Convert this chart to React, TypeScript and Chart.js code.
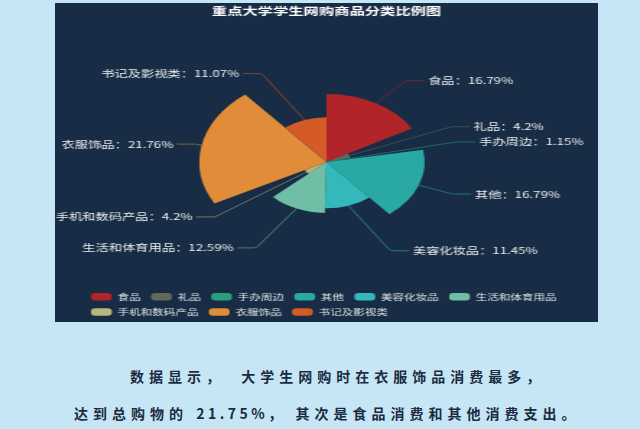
import React, { useEffect, useRef } from 'react';
import { Chart, registerables } from 'chart.js';

Chart.register(...registerables);

const FONT = '"Noto Sans CJK SC", "Microsoft YaHei", sans-serif';

const chartTitle = '重点大学学生网购商品分类比例图';
const categories = ['食品', '礼品', '手办周边', '其他', '美容化妆品', '生活和体育用品', '手机和数码产品', '衣服饰品', '书记及影视类'];
const shares = [16.79, 4.2, 1.15, 16.79, 11.45, 12.59, 4.2, 21.76, 11.07];
const colors = ['#b1242a', '#5f6a5a', '#2a9f7e', '#2aa9a4', '#33b8bc', '#6ebfa6', '#b4b67e', '#e08c38', '#d45a27'];
const captionLine1 = '数据显示，  大学生网购时在衣服饰品消费最多，';
const captionLine2Start = '达到总购物的 ';
const captionLine2Number = '21.75%';
const captionLine2End = '， 其次是食品消费和其他消费支出。';

const total = shares.reduce((a, b) => a + b, 0);
const STRETCH = 543 / 376;

const roseLabels = {
  id: 'roseLabels',
  afterDatasetsDraw(chart: any) {
    const ctx = chart.ctx;
    const meta = chart.getDatasetMeta(0);
    const scale = chart.scales.r;
    const R = scale.getDistanceFromCenterForValue(Math.max(...shares));
    const rL = R + 6;
    const rA = R + 4;
    const rB = rA * 1.1;
    ctx.save();
    ctx.font = `9.2px ${FONT}`;
    ctx.textBaseline = 'middle';
    meta.data.forEach((arc: any, i: number) => {
      const { x, y, startAngle, endAngle, outerRadius } = arc.getProps(['x', 'y', 'startAngle', 'endAngle', 'outerRadius'], true);
      const mid = (startAngle + endAngle) / 2;
      const c = Math.cos(mid);
      const s = Math.sin(mid);
      const x1 = x + outerRadius * c;
      const y1 = y + outerRadius * s;
      const ly = y + rL * s;
      const dy = Math.abs(ly - y);
      const dir = c < 0 ? -1 : 1;
      const ex = rA * Math.sqrt(Math.max(0, 1 - (dy * dy) / (rB * rB)));
      const x2 = x + dir * ex;
      const x3 = x2 + dir * 13;
      ctx.strokeStyle = colors[i] + '8c';
      ctx.lineWidth = 1;
      ctx.beginPath();
      ctx.moveTo(x1, y1);
      ctx.arcTo(x2, ly, x3, ly, 4);
      ctx.lineTo(x3, ly);
      ctx.stroke();
      ctx.fillStyle = '#eceef0';
      ctx.textAlign = dir < 0 ? 'right' : 'left';
      ctx.fillText(`${categories[i]}：${shares[i]}%`, x3 + dir * 2.5, ly);
    });
    ctx.restore();
  },
};

function RoseChart() {
  const ref = useRef<HTMLCanvasElement | null>(null);
  useEffect(() => {
    if (!ref.current) return;
    const chart = new Chart(ref.current, {
      type: 'polarArea',
      data: {
        labels: categories,
        datasets: [
          {
            data: shares,
            backgroundColor: colors,
            borderWidth: 0,
            angle: shares.map((v) => (v / total) * 360),
          } as any,
        ],
      },
      options: {
        responsive: false,
        animation: false,
        layout: { padding: { left: 17.7, right: 17.7, top: 0, bottom: 0 } },
        scales: {
          r: { display: false, min: 0, max: 30.4 },
        },
        plugins: {
          title: {
            display: true,
            text: chartTitle,
            color: '#ffffff',
            font: { size: 10.6, weight: 'bold', family: FONT },
            padding: { top: 1.44, bottom: 22.24 },
          },
          legend: {
            position: 'bottom',
            align: 'start',
            labels: {
              boxWidth: 14.4,
              boxHeight: 7.5,
              padding: 7.2,
              color: '#e2e6ea',
              font: { size: 8, family: FONT },
              generateLabels: (c: any) =>
                categories.map((name, i) => ({
                  text: name,
                  fillStyle: colors[i],
                  strokeStyle: colors[i],
                  lineWidth: 0,
                  borderRadius: 3,
                  fontColor: '#e2e6ea',
                  hidden: !c.getDataVisibility(i),
                  index: i,
                })),
            },
          },
          tooltip: { enabled: false },
        },
      } as any,
      plugins: [roseLabels],
    });
    return () => chart.destroy();
  }, []);
  return <canvas ref={ref} width={376} height={323} style={{ width: 376, height: 323, display: 'block' }} />;
}

export default function App() {
  const captionStyle: React.CSSProperties = {
    position: 'absolute',
    fontFamily: FONT,
    fontWeight: 'bold',
    fontSize: 14,
    letterSpacing: 5,
    lineHeight: '20px',
    color: '#1b2b40',
    whiteSpace: 'pre',
  };
  return (
    <div style={{ position: 'fixed', left: 0, top: 0, width: 640, height: 429, background: '#c6e6f6', overflow: 'hidden' }}>
      <div style={{ position: 'absolute', left: 55, top: 3, width: 543, height: 319, background: '#182d45', overflow: 'hidden' }}>
        <div style={{ width: 376, height: 323, transform: `scaleX(${STRETCH})`, transformOrigin: '0 0' }}>
          <RoseChart />
        </div>
      </div>
      <div style={{ ...captionStyle, left: 130, top: 366 }}>{captionLine1}</div>
      <div style={{ ...captionStyle, left: 74, top: 403 }}>
        {captionLine2Start}
        <span style={{ letterSpacing: 3.5 }}>{captionLine2Number}</span>
        {captionLine2End}
      </div>
    </div>
  );
}
